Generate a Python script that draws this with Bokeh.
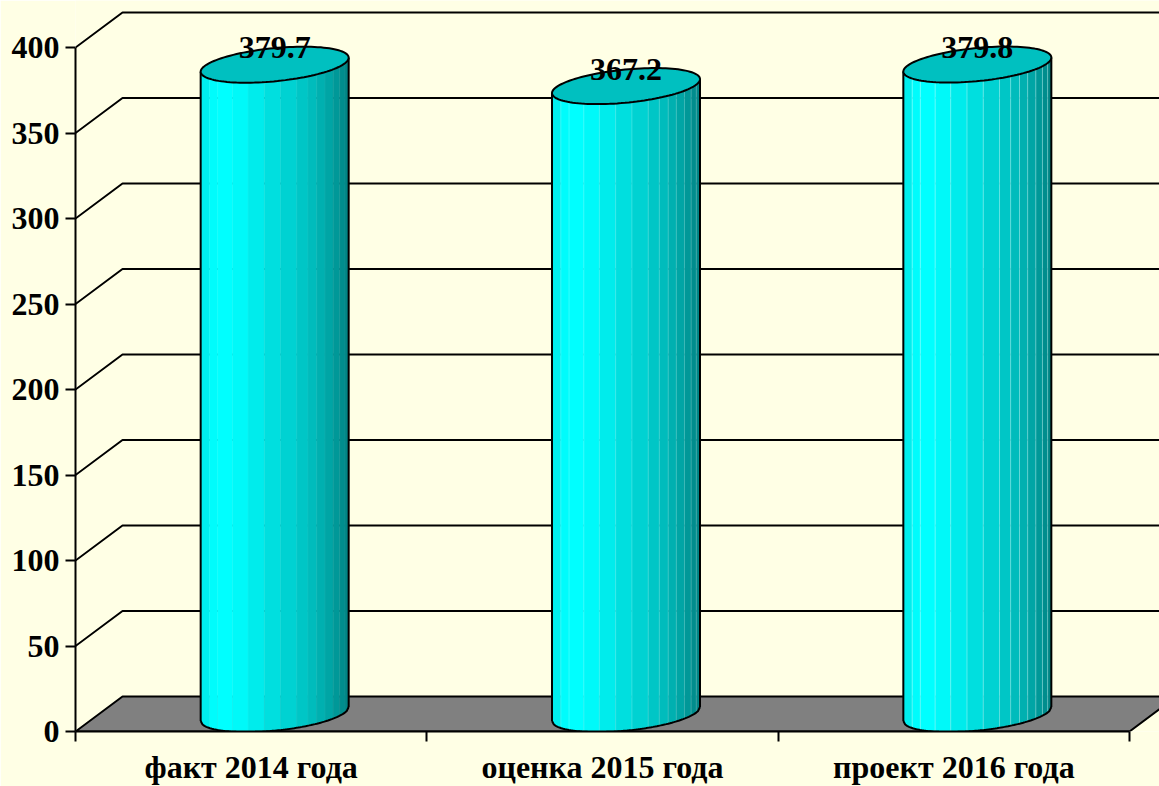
import numpy as np
from bokeh.plotting import figure
from bokeh.models import Range1d, FixedTicker, LinearAxis
from bokeh.embed import file_html
from bokeh.resources import INLINE
from bokeh.core.properties import value

categories = ["факт 2014 года", "оценка 2015 года", "проект 2016 года"]
values = [379.7, 367.2, 379.8]
value_labels = ["379.7", "367.2", "379.8"]
y_ticks = [0, 50, 100, 150, 200, 250, 300, 350, 400]

BG = "#FFFFE5"
FONT = "Liberation Serif"
PX_X = 351.33   # pixels per category
PX_Y = 1.71     # pixels per value unit
DX = 47 / PX_X  # chart depth in data units
DY = 35 / PX_Y
A = 74 / PX_X   # cylinder half width
B = 16.6 / PX_Y # ellipse half height
SH = 7 / PX_Y   # ellipse tilt at its right end

p = figure(width=1159, height=786, frame_width=1084, frame_height=731,
           output_backend="svg", toolbar_location=None,
           x_axis_location=None, y_axis_location=None,
           x_range=Range1d(0, 3 + 30 / PX_X), y_range=Range1d(0, 731 / PX_Y),
           min_border_left=75, min_border_right=0, min_border_top=0, min_border_bottom=0,
           background_fill_color=BG, border_fill_color=BG, outline_line_color=None)
p.grid.visible = False

# walls
gx, gy = [], []
for v in y_ticks[1:]:
    gx.append([0, DX, 3.2])
    gy.append([v, v + DY, v + DY])
p.multi_line(gx, gy, line_color="black", line_width=2)
p.patch([0, DX, 3 + DX, 3], [0, DY, DY, 0], fill_color="#808080", line_color="black", line_width=2)

# cylinders
fr = np.array([0, .06, .115, .215, .32, .43, .54, .65, .725, .785, .84, .895, .94, .975, 1])
stops_x = [0, .10, .22, .5, .72, .87, 1]
stops_g = [232, 255, 255, 222, 195, 165, 130]
hl_alpha = [0.06, 0.25, 0.45]


def edge(cx, cy, u):
    """lower arc of the tilted ellipse at relative positions u in -1..1"""
    return cy + SH * u - B * np.sqrt(np.clip(1 - u * u, 0, 1))


for i, v in enumerate(values):
    cx = i + 0.5 + DX / 2
    top = v + DY / 2
    base = DY / 2
    xs, ys, cols = [], [], []
    for a, b in zip(fr[:-1], fr[1:]):
        u = np.linspace(a, b, 8) * 2 - 1
        xs.append(list(cx + A * u) + list(cx + A * u[::-1]))
        ys.append(list(edge(cx, top, u)) + list(edge(cx, base, u[::-1])))
        g = int(np.interp((a + b) / 2, stops_x, stops_g))
        cols.append(f"#00{g:02x}{g:02x}")
    p.patches(xs, ys, fill_color=cols, line_color=cols, line_width=0.5)
    lx, ly = [], []
    for a in fr[1:-1]:
        u = a * 2 - 1
        lx.append([cx + A * u, cx + A * u])
        ly.append([edge(cx, top, u), edge(cx, base, u)])
    p.multi_line(lx, ly, line_color="#C8FFFF", line_alpha=hl_alpha[i], line_width=1)
    # outline of the body
    u = np.linspace(-1, 1, 80)
    p.line(list(cx + A * u), list(edge(cx, base, u)), line_color="black", line_width=2)
    p.line([cx - A, cx - A], [edge(cx, top, -1.0), edge(cx, base, -1.0)], line_color="black", line_width=2)
    p.line([cx + A, cx + A], [edge(cx, top, 1.0), edge(cx, base, 1.0)], line_color="black", line_width=2)
    # top
    t = np.linspace(0, 2 * np.pi, 120)
    p.patch(cx + A * np.cos(t), top + SH * np.cos(t) + B * np.sin(t),
            fill_color="#00C0C0", line_color="black", line_width=2)
    p.text([cx], [top], text=[value_labels[i]], text_font=value(FONT), text_font_style="bold",
           text_font_size="32px", text_color="black", text_align="center",
           text_baseline="alphabetic", y_offset=-17)

# axes
yaxis = LinearAxis(ticker=FixedTicker(ticks=y_ticks), bounds=(0, 400),
                   major_tick_in=0, major_tick_out=10, minor_tick_line_color=None,
                   axis_line_color="black", axis_line_width=2,
                   major_tick_line_color="black", major_tick_line_width=2,
                   major_label_standoff=6, major_label_text_font=FONT,
                   major_label_text_font_style="bold", major_label_text_font_size="32px",
                   major_label_text_color="black")
p.add_layout(yaxis, "left")

xaxis = LinearAxis(ticker=FixedTicker(ticks=[0.5, 1.5, 2.5], minor_ticks=[0, 1, 2, 3]), bounds=(0, 3),
                   major_label_overrides={0.5: categories[0], 1.5: categories[1], 2.5: categories[2]},
                   major_tick_line_color=None, major_tick_in=0, major_tick_out=0,
                   minor_tick_in=0, minor_tick_out=10, minor_tick_line_color="black", minor_tick_line_width=2,
                   axis_line_color="black", axis_line_width=2,
                   major_label_standoff=7, major_label_text_font=FONT,
                   major_label_text_font_style="bold", major_label_text_font_size="32px",
                   major_label_text_color="black")
p.add_layout(xaxis, "below")

open("out.html", "w").write(file_html(p, INLINE))
